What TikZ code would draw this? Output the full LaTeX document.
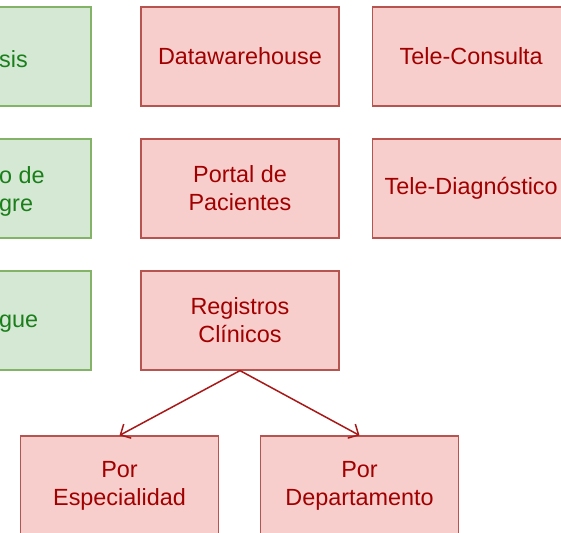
\documentclass[tikz,border=0pt]{standalone}
\usepackage{fontspec}
\setmainfont{Liberation Sans}
\usetikzlibrary{arrows.meta, positioning}
\definecolor{redfill}{HTML}{F8CECC}
\definecolor{redline}{HTML}{B85450}
\definecolor{redtext}{HTML}{A00000}
\definecolor{redarrow}{HTML}{A81818}
\definecolor{greenfill}{HTML}{D5E8D4}
\definecolor{greenline}{HTML}{82B366}
\definecolor{greentext}{HTML}{1A7F1A}

\begin{document}
\begin{tikzpicture}[
    x=1pt, y=1pt,
    node distance=31.8pt and 32pt,
    font=\fontsize{23.4}{28}\selectfont,
    redbox/.style={rectangle, draw=redline, fill=redfill, text=redtext, line width=1.2pt, minimum width=198pt, minimum height=99pt, align=center, inner sep=0pt},
    greenbox/.style={rectangle, draw=greenline, fill=greenfill, line width=1.2pt, minimum width=198pt, minimum height=99pt, inner sep=0pt},
    greenlabel/.style={text=greentext, align=left, anchor=west, inner sep=0pt, yshift=-3pt},
    flow/.style={draw=redarrow, line width=1.5pt, -{Straight Barb[length=8pt, width=16pt]}}
]
    \useasboundingbox (0,0) rectangle (561,-532);
    \clip (0,0) rectangle (561,-532);
    \coordinate (leftedge) at (-1,0);

    \node[redbox] (datawarehouse) at (240,-56.5) {Datawarehouse};
    \node[redbox, right=of datawarehouse] (teleconsulta) {Tele-Consulta};
    \node[redbox, below=of datawarehouse] (portal) {Portal de\\Pacientes};
    \node[redbox, right=of portal] (telediagnostico) {Tele-Diagnóstico};
    \node[redbox, below=of portal] (registros) {Registros\\Clínicos};
    \node[redbox, below=64.8pt of registros, xshift=-120.5pt] (especialidad) {Por\\Especialidad};
    \node[redbox, right=40.8pt of especialidad] (departamento) {Por\\Departamento};

    \node[greenbox, left=48.8pt of datawarehouse] (green_a) {};
    \node[greenbox, left=48.8pt of portal] (green_b) {};
    \node[greenbox, left=48.8pt of registros] (green_c) {};
    \node[greenlabel] (green_a_text) at (green_a -| leftedge) {sis};
    \node[greenlabel] (green_b_text) at (green_b -| leftedge) {o de\\gre};
    \node[greenlabel] (green_c_text) at (green_c -| leftedge) {gue};

    \draw[flow] (registros.south) -- (especialidad.north);
    \draw[flow] (registros.south) -- (departamento.north);
\end{tikzpicture}
\end{document}
